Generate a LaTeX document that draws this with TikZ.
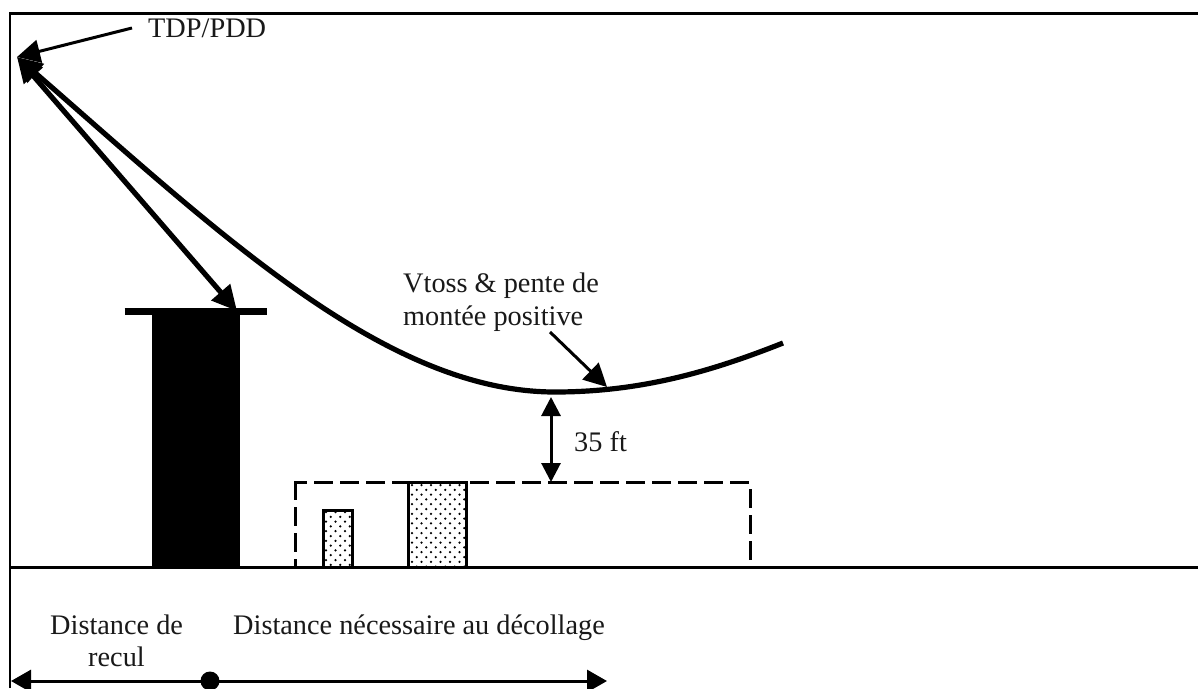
\documentclass[tikz,border=0pt]{standalone}
\usepackage{fontspec}
\setmainfont{Liberation Serif}
\usetikzlibrary{arrows.meta}
\tikzset{
  x=1pt,y=-1pt,
  lbl/.style={inner sep=0pt,font=\fontsize{28.3}{32}\selectfont,text=black!90,anchor=base west},
  groundtip/.style={{Triangle[length=20pt,width=22pt]}-{Triangle[length=20pt,width=22pt]}},
  gaptip/.style={{Triangle[length=19pt,width=19pt]}-{Triangle[length=19pt,width=19pt]}},
  bigtip/.style={-{Triangle[length=23pt,width=23pt]}},
  bothtip/.style={{Triangle[length=25pt,width=24pt]}-{Triangle[length=25pt,width=24pt]}},
  thinline/.style={line width=3pt},
  heavy/.style={line width=5.2pt},
  obstacle/.style={draw=black,line width=3pt},
  dashbox/.style={line width=3pt,dash pattern=on 19pt off 7pt}
}
\begin{document}
\begin{tikzpicture}
\useasboundingbox (0,0) rectangle (1198,688);
\fill[white] (0,0) rectangle (1198,688);
% points
\coordinate (tdp) at (17,57);
\coordinate (roof) at (237,311);
\coordinate (low) at (555,392);
\coordinate (hit) at (607,387);
\coordinate (curveend) at (783,343);
\coordinate (gl) at (10,567.5);
\coordinate (gr) at (1198,567.5);
\coordinate (mid) at (210,681);
\coordinate (la) at (11,681);
\coordinate (ra) at (607,681);
% frame
\draw[line width=2.8pt] (10,688) -- (10,13.5) -- (1198,13.5);
\draw[line width=3pt] (gl) -- (gr);
% building
\fill (152,310) rectangle (239.5,567);
\draw[line width=7pt] (124.5,311.5) -- (267,311.5);
% obstacles with dots
\begin{scope}
\clip (323,511) rectangle (352,567);
\foreach \r in {0,...,12}{\foreach \c in {0,...,4}{
  \fill ({326+\c*9.5+mod(\r,2)*4.75},{512+\r*4.8}) circle (1.25pt);}}
\end{scope}
\begin{scope}
\clip (408,482) rectangle (466,567);
\foreach \r in {0,...,18}{\foreach \c in {0,...,6}{
  \fill ({412+\c*9.5+mod(\r,2)*4.75},{485+\r*4.8}) circle (1.25pt);}}
\end{scope}
\draw[obstacle] (323.5,567) -- (323.5,510.5) -- (352,510.5) -- (352,567);
\draw[obstacle] (408.5,567) -- (408.5,482) -- (466,482) -- (466,567);
% dashed box
\draw[dashbox,dash phase=7pt] (295,482) -- (750,482);
\draw[dashbox] (295,481) -- (295,567);
\draw[dashbox,dash phase=19pt] (750,482) -- (750,567);
% flight path
\draw[heavy,{Triangle[length=25pt,width=24pt]}-] (tdp) .. controls (218,232) and (385,392) .. (low) .. controls (640,392) and (710,372) .. (curveend);
\draw[heavy,bothtip] (tdp) -- (roof);
% labels
\node[lbl] (tl) at (148,37) {TDP/PDD};
\coordinate (ts) at (132,28);
\draw[thinline,bigtip] (ts) -- (tdp);
\node[lbl] (vt1) at (403,292) {Vtoss \& pente de};
\node[lbl] (vt2) at (403,325) {montée positive};
\coordinate (vs) at (550,332);
\draw[thinline,bigtip] (vs) -- (hit);
\coordinate (b1) at (551,397);
\coordinate (b2) at (551,482);
\draw[line width=3pt,gaptip] (b1) -- (b2);
\node[lbl] (ft) at (574,451) {35 ft};
\node[lbl] (dr1) at (50,634) {Distance de};
\node[lbl] (dr2) at (88,666) {recul};
\node[lbl] (dn) at (233,634) {Distance nécessaire au décollage};
\draw[thinline,groundtip] (la) -- (ra);
\fill (mid) circle (9.5pt);
\end{tikzpicture}
\end{document}
